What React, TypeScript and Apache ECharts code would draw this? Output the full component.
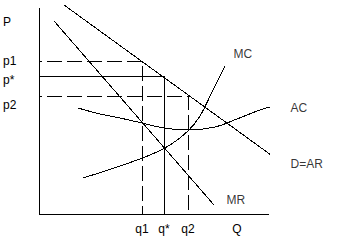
import React, { useEffect, useRef } from "react";
import * as echarts from "echarts";

// Quantities: q1, q*, q2 ; Prices: p1, p*, p2 (data units: Q 0..230, P 0..206)
const quantities = [103, 125, 149];
const prices = [153, 138, 118];

const xTickValues = [103, 125, 149, 198];
const xTickLabels = ["q1", "q*", "q2", "Q"];
const yTickValues = [192, 153, 134, 109];
const yTickLabels = ["P", "p1", "p*", "p2"];

const demandAR = [
  [25, 209],
  [243, 51],
];
const marginalRevenue = [
  [15, 193],
  [175, 9],
];
const marginalCost = [
  [44, 36],
  [81, 48],
  [111, 59],
  [131, 69],
  [149, 83],
  [161, 98],
  [173, 122],
  [186, 148],
];
const averageCost = [
  [39, 106],
  [61, 100],
  [81, 96],
  [103, 91],
  [125, 86],
  [149, 84],
  [176, 87],
  [198, 95],
  [221, 104],
  [238, 109],
];

const curveNames = ["MC", "AC", "D=AR", "MR"];
const curveLabelAnchors = [
  [194, 160],
  [251, 106],
  [251, 50],
  [187, 14],
];

const FONT = "'Liberation Sans', Arial, sans-serif";

export default function App() {
  const ref = useRef<HTMLDivElement>(null);

  useEffect(() => {
    if (!ref.current) return;
    const chart = echarts.init(ref.current, undefined, { renderer: "svg" });

    const black = "#000";
    const lineBase = {
      type: "line" as const,
      showSymbol: false,
      symbol: "none",
      clip: false,
      silent: true,
      smooth: false,
      lineStyle: { color: black, width: 1 },
    };

    const [q1, qStar, q2] = quantities;
    const [p1, pStar, p2] = prices;

    chart.setOption({
      animation: false,
      backgroundColor: "#fff",
      grid: { left: 39, top: 8, width: 230, height: 206, containLabel: false },
      xAxis: {
        type: "value",
        min: 0,
        max: 230,
        splitLine: { show: false },
        axisTick: { show: false },
        axisLine: { show: true, onZero: false, lineStyle: { color: black, width: 1 } },
        axisLabel: {
          show: true,
          customValues: xTickValues,
          margin: 9,
          color: black,
          fontSize: 12,
          fontFamily: FONT,
          formatter: (v: number) => {
            const i = xTickValues.indexOf(v);
            return i >= 0 ? xTickLabels[i] : "";
          },
        },
      },
      yAxis: {
        type: "value",
        min: 0,
        max: 206,
        splitLine: { show: false },
        axisTick: { show: false },
        axisLine: { show: true, onZero: false, lineStyle: { color: black, width: 1 } },
        axisLabel: {
          show: true,
          customValues: yTickValues,
          margin: 36,
          align: "left",
          color: black,
          fontSize: 12,
          fontFamily: FONT,
          formatter: (v: number) => {
            const i = yTickValues.indexOf(v);
            return i >= 0 ? yTickLabels[i] : "";
          },
        },
      },
      series: [
        { ...lineBase, name: "D=AR", data: demandAR },
        { ...lineBase, name: "MR", data: marginalRevenue },
        { ...lineBase, name: "MC", data: marginalCost, smooth: 0.4 },
        { ...lineBase, name: "AC", data: averageCost, smooth: 0.4 },
        {
          ...lineBase,
          name: "p1q1",
          data: [
            [0, p1],
            [q1, p1],
            [q1, 0],
          ],
          lineStyle: { color: black, width: 1, type: [15, 5], dashOffset: 12 },
        },
        {
          ...lineBase,
          name: "p*q*",
          data: [
            [0, pStar],
            [qStar, pStar],
            [qStar, 0],
          ],
        },
        {
          ...lineBase,
          name: "p2q2",
          data: [
            [0, p2],
            [q2, p2],
            [q2, 0],
          ],
          lineStyle: { color: black, width: 1, type: [15, 5], dashOffset: 12 },
        },
        {
          type: "scatter",
          name: "labels",
          clip: false,
          silent: true,
          symbol: "circle",
          symbolSize: 1,
          itemStyle: { color: "rgba(0,0,0,0)" },
          data: curveLabelAnchors.map((p, i) => ({ value: p, name: curveNames[i] })),
          label: {
            show: true,
            position: "right",
            distance: 0,
            formatter: (p: any) => p.name,
            color: black,
            fontSize: 12,
            fontFamily: FONT,
          },
        },
      ],
    });

    return () => chart.dispose();
  }, []);

  return (
    <>
      <style>{`.econ-chart svg path { shape-rendering: crispEdges; }`}</style>
      <div
        ref={ref}
        className="econ-chart"
        style={{ position: "fixed", left: 0, top: 0, width: 345, height: 242, background: "#fff" }}
      />
    </>
  );
}
